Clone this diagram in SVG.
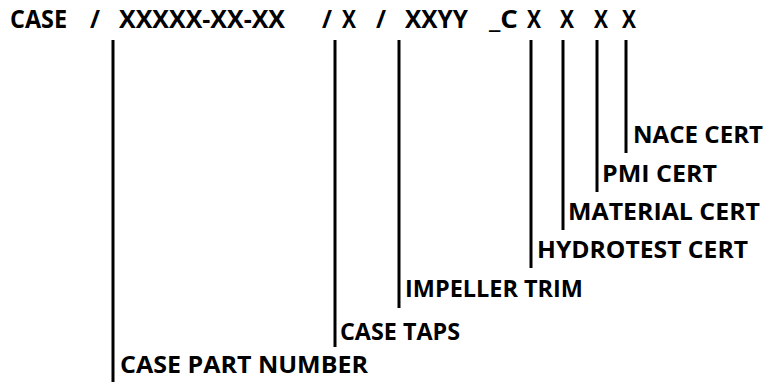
<svg xmlns="http://www.w3.org/2000/svg" width="769" height="383" viewBox="0 0 769 383">
<style>
text{font-family:"Open Sans","Noto Sans","Liberation Sans",sans-serif;font-weight:bold;fill:#000}
.top{font-size:25px}
.lbl{font-size:23px}
.ln{stroke:#000;stroke-width:3;fill:none}
</style>
<rect width="769" height="383" fill="#fff"/>
<g id="code">
<text class="top" x="10" y="28" textLength="57" lengthAdjust="spacingAndGlyphs">CASE</text>
<text class="top" x="90" y="28" textLength="10" lengthAdjust="spacingAndGlyphs">/</text>
<text class="top" x="119" y="28" textLength="166" lengthAdjust="spacingAndGlyphs">XXXXX-XX-XX</text>
<text class="top" x="322" y="28" textLength="10" lengthAdjust="spacingAndGlyphs">/</text>
<text class="top" x="342" y="28" textLength="14" lengthAdjust="spacingAndGlyphs">X</text>
<text class="top" x="376" y="28" textLength="10" lengthAdjust="spacingAndGlyphs">/</text>
<text class="top" x="405" y="28" textLength="63" lengthAdjust="spacingAndGlyphs">XXYY</text>
<text class="top" x="489" y="28" textLength="29" lengthAdjust="spacingAndGlyphs">_C</text>
<text class="top" x="527" y="28" textLength="14" lengthAdjust="spacingAndGlyphs">X</text>
<text class="top" x="560" y="28" textLength="14" lengthAdjust="spacingAndGlyphs">X</text>
<text class="top" x="594" y="28" textLength="14" lengthAdjust="spacingAndGlyphs">X</text>
<text class="top" x="622" y="28" textLength="14" lengthAdjust="spacingAndGlyphs">X</text>
</g>
<g id="connectors">
<line class="ln" x1="113" y1="40" x2="113" y2="382"/>
<line class="ln" x1="335" y1="40" x2="335" y2="347"/>
<line class="ln" x1="399" y1="40" x2="399" y2="308"/>
<line class="ln" x1="531" y1="40" x2="531" y2="268"/>
<line class="ln" x1="563" y1="40" x2="563" y2="230"/>
<line class="ln" x1="597" y1="40" x2="597" y2="192"/>
<line class="ln" x1="626" y1="40" x2="626" y2="153"/>
</g>
<g id="case-part-number"><text class="lbl" x="120" y="373" textLength="248" lengthAdjust="spacingAndGlyphs">CASE PART NUMBER</text></g>
<g id="case-taps"><text class="lbl" x="340" y="340" textLength="120" lengthAdjust="spacingAndGlyphs">CASE TAPS</text></g>
<g id="impeller-trim"><text class="lbl" x="405" y="297" textLength="178" lengthAdjust="spacingAndGlyphs">IMPELLER TRIM</text></g>
<g id="hydrotest-cert"><text class="lbl" x="537" y="258" textLength="211" lengthAdjust="spacingAndGlyphs">HYDROTEST CERT</text></g>
<g id="material-cert"><text class="lbl" x="568" y="220" textLength="192" lengthAdjust="spacingAndGlyphs">MATERIAL CERT</text></g>
<g id="pmi-cert"><text class="lbl" x="602" y="182" textLength="115" lengthAdjust="spacingAndGlyphs">PMI CERT</text></g>
<g id="nace-cert"><text class="lbl" x="633" y="143" textLength="130" lengthAdjust="spacingAndGlyphs">NACE CERT</text></g>
</svg>
